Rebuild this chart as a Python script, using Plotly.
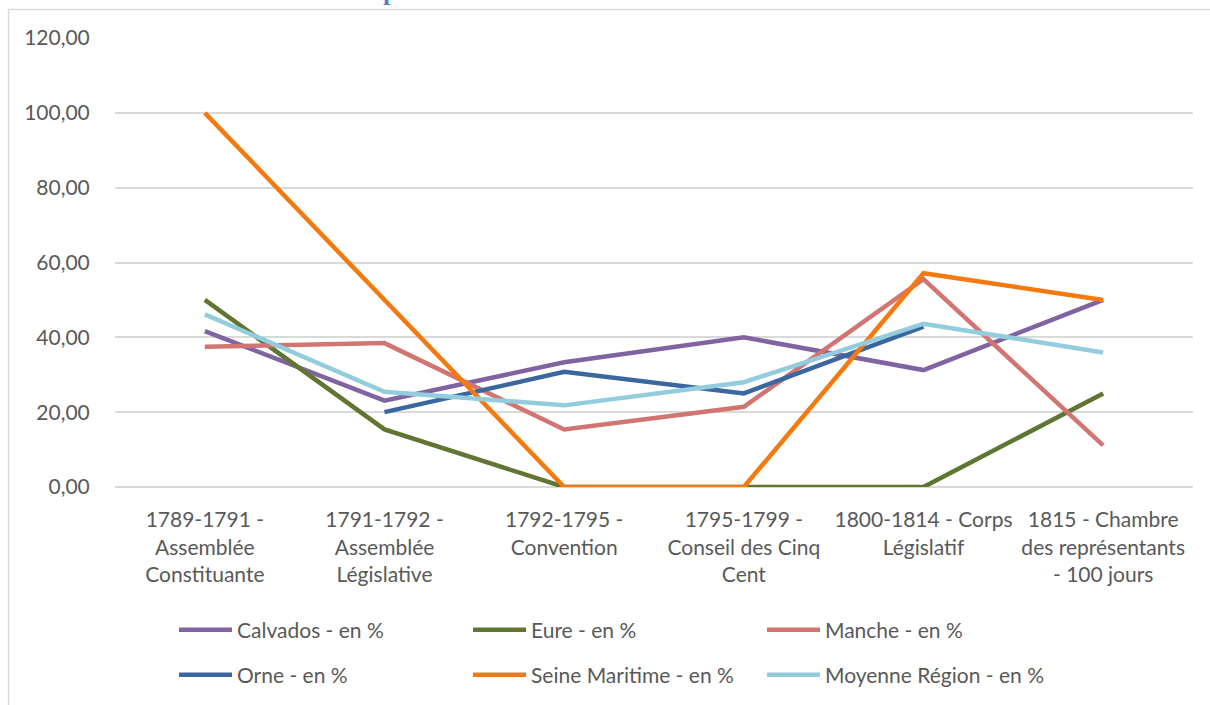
import plotly.graph_objects as go

# Periods (x categories)
categories = [
    "1789-1791 -<br>Assemblée<br>Constituante",
    "1791-1792 -<br>Assemblée<br>Législative",
    "1792-1795 -<br>Convention",
    "1795-1799 -<br>Conseil des Cinq<br>Cent",
    "1800-1814 - Corps<br>Législatif",
    "1815 - Chambre<br>des représentants<br>- 100 jours",
]

# Series values (percent)
calvados = [41.67, 23.08, 33.33, 40.00, 31.25, 50.00]
eure = [50.00, 15.38, 0.00, 0.00, 0.00, 25.00]
manche = [37.50, 38.46, 15.38, 21.43, 55.56, 11.11]
orne = [None, 20.00, 30.77, 25.00, 42.86, None]
seine_maritime = [100.00, 50.00, 0.00, 0.00, 57.14, 50.00]
moyenne_region = [46.15, 25.45, 21.82, 28.00, 43.64, 35.94]

y_ticks = [0, 20, 40, 60, 80, 100, 120]

# name, values, colour, legend row
series = [
    ("Calvados - en %", calvados, "#8064A2", "legend"),
    ("Eure - en %", eure, "#5F7531", "legend"),
    ("Manche - en %", manche, "#D17572", "legend"),
    ("Orne - en %", orne, "#3A679E", "legend2"),
    ("Seine Maritime - en %", seine_maritime, "#F47A10", "legend2"),
    ("Moyenne Région - en %", moyenne_region, "#93CDDD", "legend2"),
]

FONT = "Lato"
GREY = "#595959"
GRID = "#D9D9D9"

fig = go.Figure()
for name, values, color, leg in series:
    fig.add_trace(go.Scatter(
        x=categories, y=values, name=name, mode="lines",
        line=dict(color=color, width=4.5),
        connectgaps=False, legend=leg,
    ))

# page geometry (pixels) used to place the outer chart frame and legends
W, H = 1210, 705
ml, mr, mt, mb = 115, 17, 38, 218
pw, ph = W - ml - mr, H - mt - mb

def px_x(x):
    return (x - ml) / pw

def px_y(y):
    return (H - mb - y) / ph

fig.add_shape(type="rect", xref="paper", yref="paper",
              x0=px_x(8.5), x1=px_x(1230), y0=px_y(730), y1=px_y(9.5),
              line=dict(color=GRID, width=1.5), fillcolor="rgba(0,0,0,0)",
              layer="below")

# heading above the chart frame, mostly outside the page
fig.add_annotation(text="<b>p</b>", xref="paper", yref="paper",
                   x=px_x(390), y=px_y(8), xanchor="center", yanchor="bottom",
                   showarrow=False,
                   font=dict(family="Liberation Serif", size=26, color="#4F81BD"))

legend_style = dict(
    orientation="h", xanchor="left", yanchor="middle",
    entrywidth=226, entrywidthmode="pixels", itemwidth=53,
    font=dict(family=FONT, size=21, color=GREY),
    bgcolor="rgba(0,0,0,0)",
)

fig.update_layout(
    width=W, height=H,
    margin=dict(l=ml, r=mr, t=mt, b=mb, autoexpand=False),
    paper_bgcolor="white", plot_bgcolor="white",
    font=dict(family=FONT, size=21, color=GREY),
    separators=", ",
    showlegend=True,
    legend=dict(x=px_x(174), y=px_y(630), **legend_style),
    legend2=dict(x=px_x(174), y=px_y(675), **legend_style),
    xaxis=dict(
        type="category", showgrid=False, showline=False, zeroline=False,
        ticks="outside", ticklen=14, tickcolor="rgba(0,0,0,0)",
        tickfont=dict(family=FONT, size=21, color=GREY),
        range=[-0.5, 5.5], automargin=False,
    ),
    yaxis=dict(
        range=[0, 120], tickvals=y_ticks, tickformat=".2f",
        showgrid=True, gridcolor=GRID, gridwidth=1.5,
        zeroline=True, zerolinecolor=GRID, zerolinewidth=1.5,
        showline=False, ticks="outside", ticklen=20, tickcolor="rgba(0,0,0,0)",
        tickfont=dict(family=FONT, size=21, color=GREY), automargin=False,
    ),
)

fig.write_html("out.html")
